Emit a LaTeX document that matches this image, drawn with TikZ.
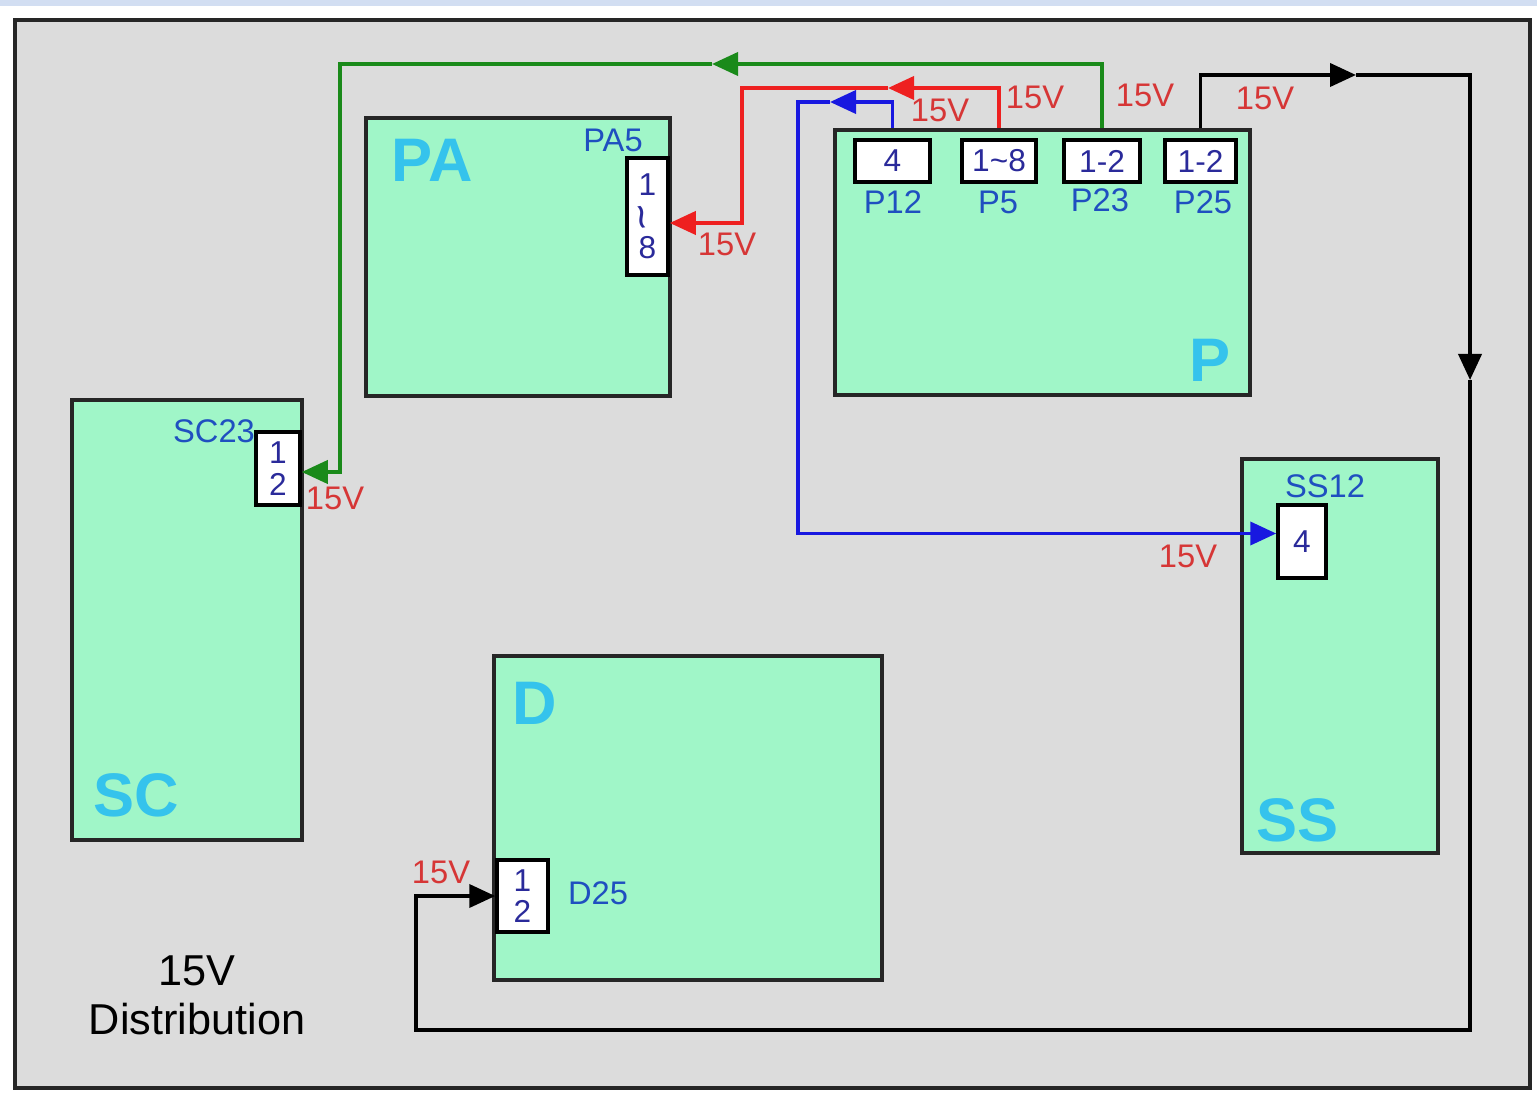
\documentclass[tikz,border=0pt]{standalone}
\usepackage{fontspec}
\setmainfont{Liberation Sans}
\usepackage{graphicx}
\usetikzlibrary{arrows.meta,positioning,calc}
\definecolor{boardfill}{HTML}{A0F6C8}
\definecolor{framefill}{HTML}{DCDCDC}
\definecolor{namecyan}{HTML}{35C3EC}
\definecolor{lblblue}{HTML}{1F4FC0}
\definecolor{pintext}{HTML}{2A2A9A}
\definecolor{voltred}{HTML}{D63636}
\definecolor{wgreen}{HTML}{1A8A1A}
\definecolor{wred}{HTML}{EE2020}
\definecolor{wblue}{HTML}{1818E0}
\definecolor{topstrip}{HTML}{D2DEF2}

\begin{document}
\begin{tikzpicture}[
    >={Triangle[length=2.6mm,width=2.3mm]},
    font=\fontsize{9}{10}\selectfont,
    outerframe/.style={
        draw=black!85,
        line width=1.4pt,
        fill=framefill,
        inner sep=0pt,
        minimum width=15.15cm,
        minimum height=10.68cm
    },
    board/.style={
        draw=black!85,
        line width=1pt,
        fill=boardfill,
        inner sep=0pt
    },
    plug/.style={
        draw=black,
        line width=1pt,
        fill=white,
        inner sep=0pt,
        align=center,
        text=pintext,
        font=\fontsize{9}{9}\selectfont
    },
    boardname/.style={
        text=namecyan,
        font=\fontsize{17.5}{18}\selectfont\bfseries,
        inner sep=0pt
    },
    lbl/.style={text=lblblue, font=\fontsize{9.3}{10}\selectfont, inner sep=0pt},
    volt/.style={text=voltred, font=\fontsize{9.3}{10}\selectfont, inner sep=0pt},
    wire/.style={line width=1.1pt, ->},
    greenwire/.style={wire, color=wgreen},
    redwire/.style={wire, color=wred},
    bluewire/.style={wire, color=wblue},
    blackwire/.style={wire, color=black}
]
\useasboundingbox (0,0) rectangle (15.37,-10.95);
\fill[topstrip] (0,0) rectangle (15.37,-0.06);

% outer frame
\node[outerframe] (frame) at (7.725,-5.54) {};

% boards
\node[board, minimum width=3.04cm, minimum height=2.78cm] (pa) at (5.18,-2.57) {};
\node[board, minimum width=4.15cm, minimum height=2.65cm] (p) at (10.425,-2.625) {};
\node[board, minimum width=2.30cm, minimum height=4.40cm] (sc) at (1.87,-6.20) {};
\node[board, minimum width=1.96cm, minimum height=3.94cm] (ss) at (13.40,-6.56) {};
\node[board, minimum width=3.88cm, minimum height=3.24cm] (d) at (6.88,-8.18) {};

% board names
\node[boardname] (paname) at (4.32,-1.60) {PA};
\node[boardname] (pname) at (12.10,-3.60) {P};
\node[boardname] (scname) at (1.36,-7.95) {SC};
\node[boardname] (ssname) at (12.97,-8.20) {SS};
\node[boardname] (dname) at (5.35,-7.03) {D};

% connectors
\node[plug, minimum width=0.41cm, minimum height=1.17cm] (pa5pin) at (6.475,-2.165)
{1\\\scalebox{1.4}{\rotatebox{100}{\textasciitilde}}\\8};
\node[plug, minimum width=0.75cm, minimum height=0.42cm] (p12pin) at (8.925,-1.61) {4};
\node[plug, minimum width=0.74cm, minimum height=0.42cm] (p5pin) at (9.99,-1.61) {1\textasciitilde 8};
\node[plug, minimum width=0.76cm, minimum height=0.42cm] (p23pin) at (11.02,-1.61) {1-2};
\node[plug, minimum width=0.71cm, minimum height=0.42cm] (p25pin) at (12.005,-1.61) {1-2};
\node[plug, minimum width=0.44cm, minimum height=0.73cm] (sc23pin) at (2.78,-4.685) {1\\2};
\node[plug, minimum width=0.48cm, minimum height=0.73cm] (ss12pin) at (13.02,-5.415) {4};
\node[plug, minimum width=0.51cm, minimum height=0.72cm] (d25pin) at (5.225,-8.96) {1\\2};

% connector labels
\node[lbl] (pa5lbl) at (6.13,-1.40) {PA5};
\node[lbl] (p12lbl) at (8.93,-2.02) {P12};
\node[lbl] (p5lbl) at (9.98,-2.02) {P5};
\node[lbl] (p23lbl) at (11.00,-2.00) {P23};
\node[lbl] (p25lbl) at (12.03,-2.02) {P25};
\node[lbl] (sc23lbl) at (2.14,-4.31) {SC23};
\node[lbl] (ss12lbl) at (13.25,-4.86) {SS12};
\node[lbl] (d25lbl) at (5.98,-8.93) {D25};

% 15V wires
\coordinate (gtop) at (7.12,-0.64);
\draw[greenwire] (p23pin.north |- p.north) |- (gtop);
\draw[greenwire] (gtop) -| ($(sc23pin.east)+(0.38,-0.035)$) -- ([yshift=-0.035cm]sc23pin.east);

\coordinate (rtop) at (8.88,-0.88);
\draw[redwire] (p5pin.north |- p.north) |- (rtop);
\draw[redwire] (rtop) -| ($(pa5pin.east)+(0.72,-0.065)$) -- ([yshift=-0.065cm]pa5pin.east);

\coordinate (btop) at (8.30,-1.02);
\draw[bluewire] (p12pin.north |- p.north) |- (btop);
\draw[bluewire] (btop) -| ($(ss12pin.west)+(-4.78,0.08)$) -- ([yshift=0.08cm]ss12pin.west);

\coordinate (ktop) at (13.56,-0.75);
\coordinate (kright) at (14.70,-3.80);
\coordinate (kcorner) at (14.70,-10.30);
\draw[blackwire] (p25pin.north |- p.north) |- (ktop);
\draw[blackwire] (ktop) -| (kright);
\draw[blackwire] (kright) -- (kcorner) -| ($(d25pin.west)+(-0.79,0)$) -- (d25pin.west);

% voltage labels
\node[volt] (vg) at (11.45,-0.95) {15V};
\node[volt] (vr) at (10.35,-0.97) {15V};
\node[volt] (vb) at (9.40,-1.10) {15V};
\node[volt] (vk) at (12.65,-0.98) {15V};
\node[volt] (vpa) at (7.27,-2.44) {15V};
\node[volt] (vsc) at (3.35,-4.98) {15V};
\node[volt] (vss) at (11.88,-5.56) {15V};
\node[volt] (vd) at (4.41,-8.72) {15V};

% title
\node[align=center, font=\fontsize{12.3}{14}\selectfont, inner sep=0pt] (title) at (1.97,-9.95)
{15V\\Distribution};

\end{tikzpicture}
\end{document}
